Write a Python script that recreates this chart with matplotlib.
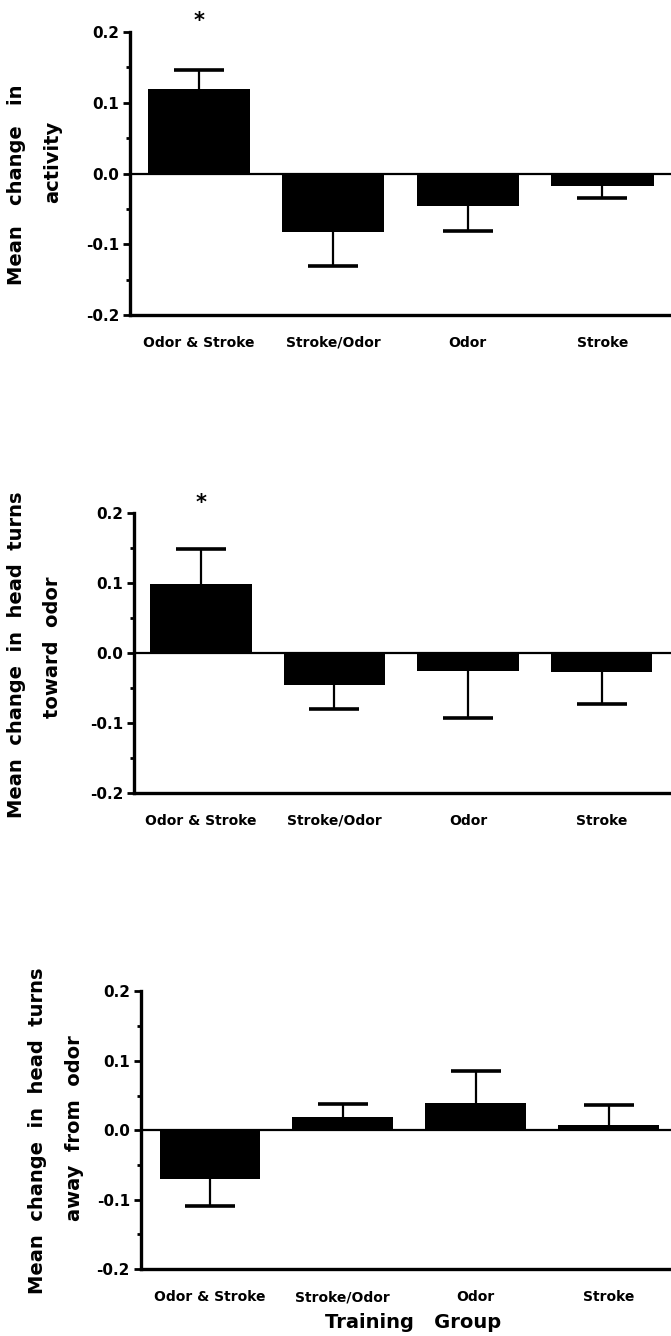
import matplotlib
matplotlib.use("Agg")
import matplotlib.pyplot as plt
from matplotlib.ticker import MultipleLocator

plt.rcParams['font.family'] = ['DejaVu Sans']
plt.rcParams['font.weight'] = 'bold'

groups = ['Odor & Stroke', 'Stroke/Odor', 'Odor', 'Stroke']

# mean change and error bar length per group, one list per panel
activity_mean = [0.119, -0.083, -0.046, -0.018]
activity_err = [0.028, 0.047, 0.035, 0.017]

toward_mean = [0.098, -0.045, -0.026, -0.027]
toward_err = [0.050, 0.035, 0.067, 0.046]

away_mean = [-0.070, 0.019, 0.039, 0.008]
away_err = [0.039, 0.019, 0.046, 0.028]

ylabels = [("Mean   change   in", "activity"),
           ("Mean  change  in  head  turns", "toward  odor"),
           ("Mean  change  in  head  turns", "away  from  odor")]
significant = [True, True, False]


def draw_panel(ax, means, errs, star):
    x = list(range(len(means)))
    ax.axhline(0, color='black', lw=1.6, zorder=1)
    ax.bar(x, means, width=0.76, color='black', zorder=3)
    # one-sided error bars, cap only at the far end
    ends = [m + e if m >= 0 else m - e for m, e in zip(means, errs)]
    ax.vlines(x, means, ends, color='black', lw=1.6, zorder=2)
    ax.plot(x, ends, ls='none', marker='_', markersize=36,
            markeredgewidth=2.6, color='black', zorder=2)
    ax.set_ylim(-0.2, 0.2)
    ax.yaxis.set_minor_locator(MultipleLocator(0.05))
    ax.set_yticks([-0.2, -0.1, 0.0, 0.1, 0.2])
    ax.set_yticklabels(['-0.2', '-0.1', '0.0', '0.1', '0.2'], fontsize=11)
    ax.set_xticks(x)
    ax.set_xticklabels(groups, fontsize=10)
    ax.tick_params(axis='x', length=0, pad=15)
    ax.tick_params(axis='y', which='major', length=5, width=2, pad=3)
    ax.tick_params(axis='y', which='minor', length=3, width=2)
    for s in ['top', 'right']:
        ax.spines[s].set_visible(False)
    for s in ['left', 'bottom']:
        ax.spines[s].set_linewidth(2.4)
    if star:
        ax.text(0, 0.215, '*', ha='center', va='center', fontsize=15,
                clip_on=False)


fig = plt.figure(figsize=(6.71, 13.36), dpi=100)

boxes = [[0.194, 0.7642, 0.806, 0.2118],
         [0.200, 0.4064, 0.800, 0.2096],
         [0.210, 0.0500, 0.790, 0.2080]]
xlims = [(-0.51, 3.51), (-0.50, 3.52), (-0.52, 3.47)]
label_pos = [((17, 185), (53, 162)),
             ((17, 655), (53, 647)),
             ((38, 1131), (75, 1128))]
data = [(activity_mean, activity_err),
        (toward_mean, toward_err),
        (away_mean, away_err)]

W, H = 671, 1336
for i in range(3):
    ax = fig.add_axes(boxes[i])
    draw_panel(ax, data[i][0], data[i][1], significant[i])
    ax.set_xlim(*xlims[i])
    for txt, (px, py) in zip(ylabels[i], label_pos[i]):
        fig.text(px / W, 1 - py / H, txt, rotation=90, ha='center',
                 va='center', fontsize=14)

fig.text(413 / W, 1 - 1322 / H, "Training   Group", ha='center',
         va='center', fontsize=14)

fig.savefig("out.png", dpi=100)
